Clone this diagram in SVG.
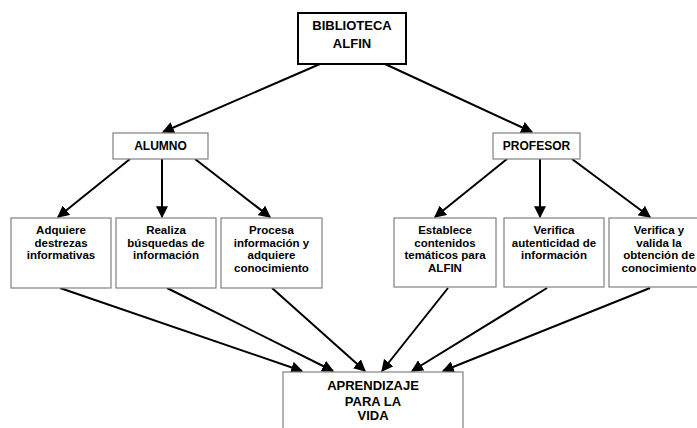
<svg xmlns="http://www.w3.org/2000/svg" width="697" height="428" viewBox="0 0 697 428">
<style>
.box{fill:#fff;stroke:#808080;stroke-width:1.2}
.top{fill:#fff;stroke:#000;stroke-width:2}
.t{font-family:"Liberation Sans",Arial,sans-serif;font-weight:bold;font-size:11.5px;text-anchor:middle;fill:#000}
.tm{font-family:"Liberation Sans",Arial,sans-serif;font-weight:bold;font-size:12px;text-anchor:middle;fill:#000}
.tb{font-family:"Liberation Sans",Arial,sans-serif;font-weight:bold;font-size:13px;text-anchor:middle;fill:#000}
.c line{stroke:#000;stroke-width:2;marker-end:url(#ah)}
</style>
<defs>
<marker id="ah" viewBox="0 0 10 10" refX="9" refY="5" markerWidth="6" markerHeight="6" orient="auto" markerUnits="strokeWidth">
<path d="M0,0 L10,5 L0,10 z" fill="#000"/>
</marker>
</defs>
<rect width="697" height="428" fill="#fff"/>
<g class="c" id="connectors">
<line x1="320" y1="64" x2="163" y2="132"/>
<line x1="385" y1="64" x2="532" y2="132"/>
<line x1="130" y1="159" x2="58" y2="217"/>
<line x1="162" y1="159" x2="162" y2="217"/>
<line x1="195" y1="159" x2="270" y2="217"/>
<line x1="507" y1="159" x2="435" y2="217"/>
<line x1="540" y1="159" x2="540" y2="217"/>
<line x1="572" y1="159" x2="650" y2="217"/>
<line x1="60" y1="288" x2="302" y2="371"/>
<line x1="167" y1="288" x2="333" y2="371"/>
<line x1="272" y1="288" x2="365" y2="371"/>
<line x1="448" y1="288" x2="382" y2="371"/>
<line x1="547" y1="288" x2="412" y2="371"/>
<line x1="650" y1="288" x2="443" y2="371"/>
</g>
<g id="biblioteca"><rect class="top" x="298" y="13" width="108" height="51"/>
<text class="tb" x="352" y="30">BIBLIOTECA</text><text class="tb" x="352" y="48">ALFIN</text></g>
<g id="alumno"><rect class="box" x="113" y="133" width="95" height="26"/><text class="tm" x="160.5" y="150">ALUMNO</text></g>
<g id="profesor"><rect class="box" x="493" y="133" width="87" height="26"/><text class="tm" x="536.5" y="150">PROFESOR</text></g>
<g id="a1"><rect class="box" x="11" y="218" width="100" height="70"/>
<text class="t" x="61" y="234">Adquiere</text><text class="t" x="61" y="246.5">destrezas</text><text class="t" x="61" y="259">informativas</text></g>
<g id="a2"><rect class="box" x="116" y="218" width="100" height="70"/>
<text class="t" x="166" y="234">Realiza</text><text class="t" x="166" y="246.5">búsquedas de</text><text class="t" x="166" y="259">información</text></g>
<g id="a3"><rect class="box" x="221" y="218" width="101" height="70"/>
<text class="t" x="271.5" y="234">Procesa</text><text class="t" x="271.5" y="246.5">información y</text><text class="t" x="271.5" y="259">adquiere</text><text class="t" x="271.5" y="271.5">conocimiento</text></g>
<g id="p1"><rect class="box" x="394" y="218" width="102" height="69"/>
<text class="t" x="445" y="234">Establece</text><text class="t" x="445" y="246.5">contenidos</text><text class="t" x="445" y="259">temáticos para</text><text class="t" x="445" y="271.5">ALFIN</text></g>
<g id="p2"><rect class="box" x="504" y="218" width="100" height="69"/>
<text class="t" x="554" y="234">Verifica</text><text class="t" x="554" y="246.5">autenticidad de</text><text class="t" x="554" y="259">información</text></g>
<g id="p3"><rect class="box" x="609" y="218" width="100" height="69"/>
<text class="t" x="659" y="234">Verifica y</text><text class="t" x="659" y="246.5">valida la</text><text class="t" x="659" y="259">obtención de</text><text class="t" x="659" y="271.5">conocimiento</text></g>
<g id="aprendizaje"><rect class="box" x="283" y="372" width="180" height="70"/>
<text class="tb" x="373" y="390">APRENDIZAJE</text><text class="tb" x="373" y="406">PARA LA</text><text class="tb" x="373" y="420">VIDA</text></g>
</svg>
